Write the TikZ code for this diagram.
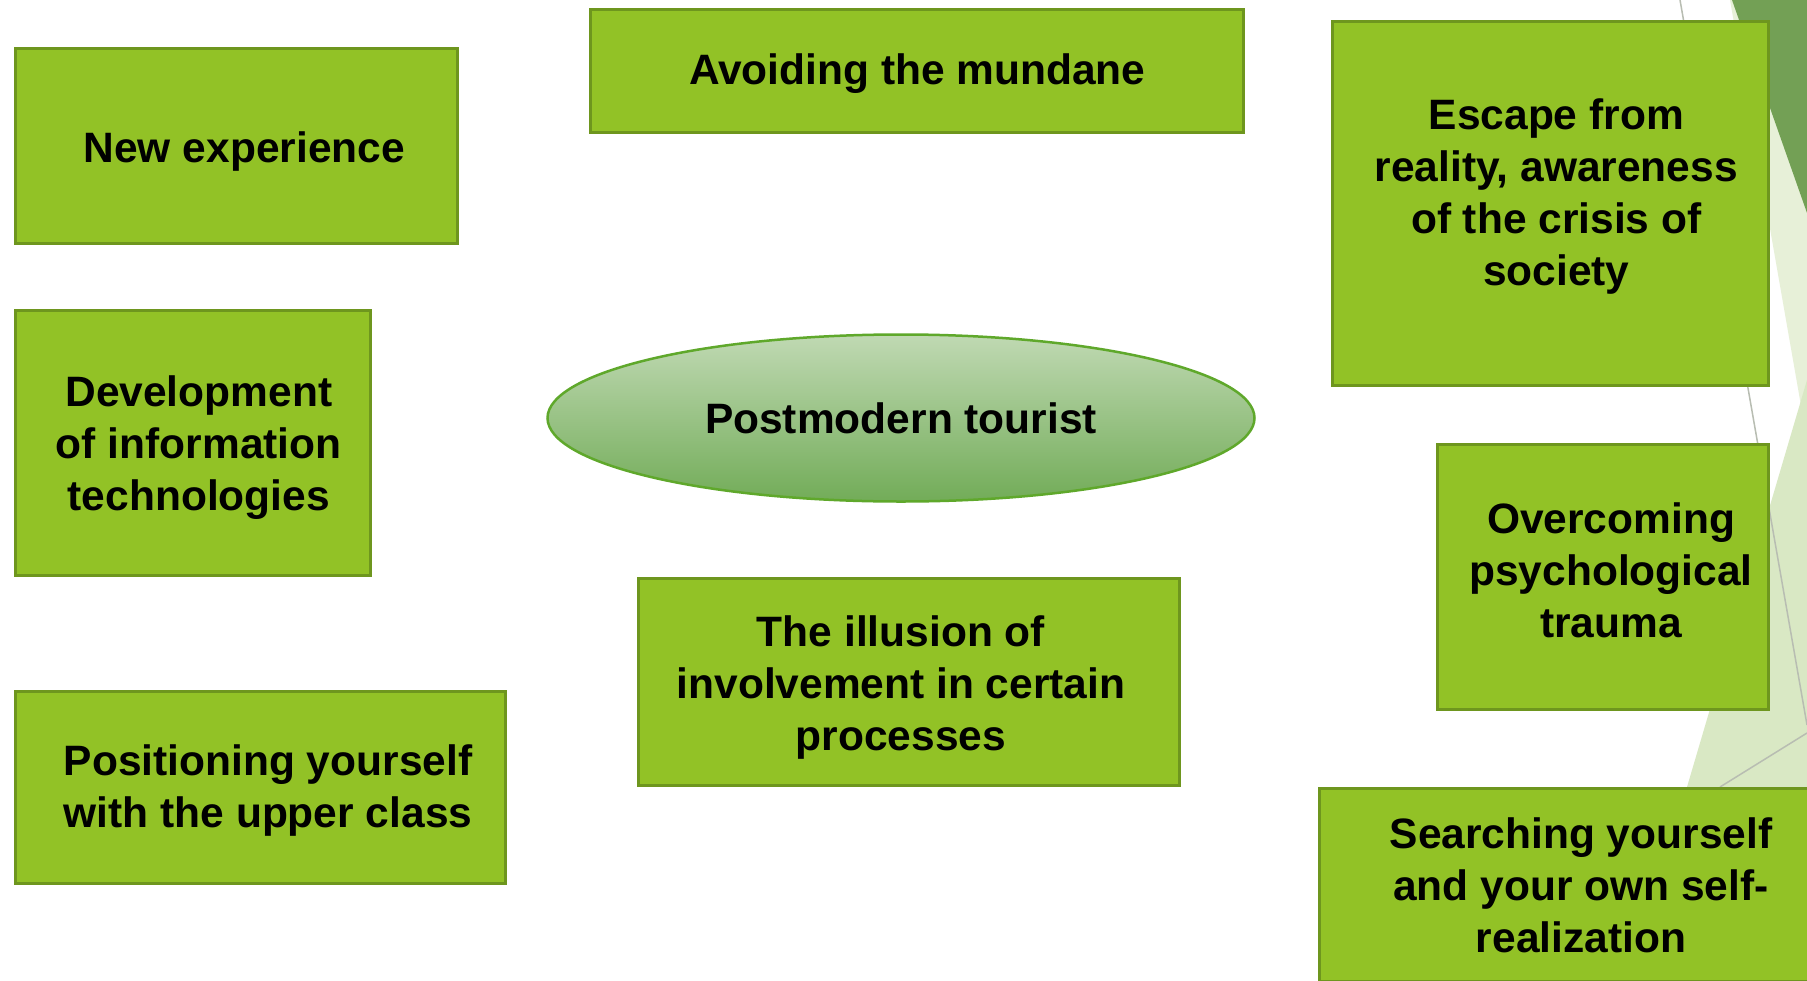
\documentclass[tikz,border=0pt]{standalone}
\usepackage{fontspec}
\setmainfont{Liberation Sans}
\usetikzlibrary{shapes.geometric}
\definecolor{boxfill}{HTML}{92C226}
\definecolor{boxline}{HTML}{6E961E}
\definecolor{darktri}{HTML}{73A055}
\definecolor{paletri}{HTML}{E7F0D8}
\definecolor{midtri}{HTML}{D9E8C4}
\definecolor{decoline}{HTML}{B8BDB2}
\definecolor{elltop}{HTML}{C0D9B3}
\definecolor{ellbot}{HTML}{72AC58}
\definecolor{ellline}{HTML}{5FA82B}
\tikzset{
  gbox/.style={draw=boxline, line width=3pt, fill=boxfill, rectangle, inner sep=0pt},
  gtext/.style={align=center, font=\fontsize{42.5}{52}\selectfont\bfseries, text=black, inner sep=0pt},
  core/.style={ellipse, draw=ellline, line width=2.5pt, top color=elltop, bottom color=ellbot,
    font=\fontsize{42.5}{52}\selectfont\bfseries, text=black, inner sep=0pt,
    minimum width=707pt, minimum height=167pt},
  deco/.style={draw=decoline, line width=1.5pt}
}
\begin{document}
\begin{tikzpicture}[x=1pt,y=-1pt]
\useasboundingbox (0,0) rectangle (1807,980);
\clip (0,0) rectangle (1807,980);
\fill[white] (0,0) rectangle (1807,980);
% background decoration
\fill[paletri] (1730,0) -- (1807,0) -- (1807,440) -- cycle;
\fill[darktri] (1732,0) -- (1807,0) -- (1807,213) -- cycle;
\fill[midtri] (1807,380) -- (1687,787) -- (1807,787) -- cycle;
\coordinate (l1a) at (1680,0);
\coordinate (l1b) at (1807,725);
\coordinate (l2a) at (1720,787);
\coordinate (l2b) at (1807,733);
\draw[deco] (l1a) -- (l1b);
\draw[deco] (l2a) -- (l2b);
% boxes
\node[gbox, minimum width=442pt, minimum height=195pt] (ne) at (236.5,146) {};
\node[gbox, minimum width=653pt, minimum height=123pt] (av) at (917,71) {};
\node[gbox, minimum width=436pt, minimum height=364pt] (es) at (1550.5,203.5) {};
\node[gbox, minimum width=355pt, minimum height=265pt] (dev) at (193,443) {};
\node[gbox, minimum width=541pt, minimum height=207pt] (ill) at (909,682) {};
\node[gbox, minimum width=331pt, minimum height=265pt] (ov) at (1603,577) {};
\node[gbox, minimum width=490pt, minimum height=192pt] (pos) at (260.5,787.5) {};
\node[gbox, minimum width=523pt, minimum height=193pt] (se) at (1581,885) {};
% texts
\node[gtext] (ne-t) at (244.3,151.8) {New experience};
\node[gtext] (av-t) at (917.3,73.3) {Avoiding the mundane};
\node[gtext] (es-t) at (1556.3,197) {Escape from\\reality, awareness\\of the crisis of\\society};
\node[gtext] (dev-t) at (198.8,447.7) {Development\\of information\\technologies};
\node[gtext] (ill-t) at (901,688) {The illusion of\\involvement in certain\\processes};
\node[gtext] (ov-t) at (1611,570.5) {Overcoming\\psychological\\trauma};
\node[gtext] (pos-t) at (268,791) {Positioning yourself\\with the upper class};
\node[gtext] (se-t) at (1581,885) {Searching yourself\\and your own self-\\realization};
% centre
\node[core] (pt) at (901,418) {Postmodern tourist};
\end{tikzpicture}
\end{document}
